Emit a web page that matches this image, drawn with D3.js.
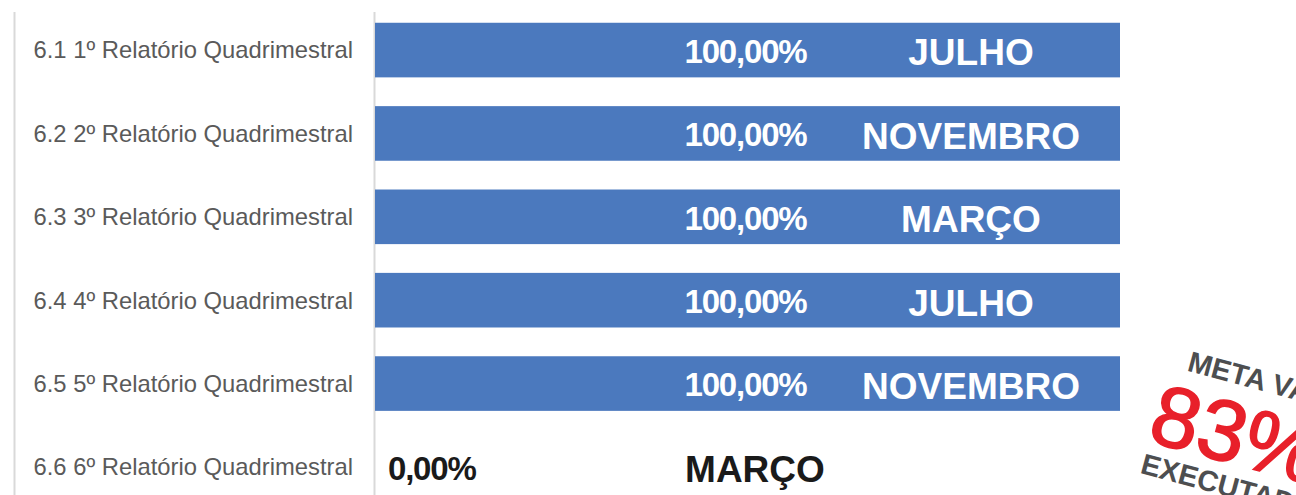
<!DOCTYPE html>
<html><head><meta charset="utf-8">
<script src="https://cdn.jsdelivr.net/npm/d3@7"></script>
<style>
html,body{margin:0;padding:0;background:#fff;overflow:hidden;}
svg{display:block;font-family:"Liberation Sans",Arial,sans-serif;}
</style></head>
<body>
<svg id="chart" width="1296" height="495"></svg>
<script>
const categories = [
  "6.1 1º Relatório Quadrimestral",
  "6.2 2º Relatório Quadrimestral",
  "6.3 3º Relatório Quadrimestral",
  "6.4 4º Relatório Quadrimestral",
  "6.5 5º Relatório Quadrimestral",
  "6.6 6º Relatório Quadrimestral"
];
const values = [1, 1, 1, 1, 1, 0];
const months = ["JULHO", "NOVEMBRO", "MARÇO", "JULHO", "NOVEMBRO", "MARÇO"];
const stampTop = "META VALIDADA";
const stampValue = "83%";
const stampBottom = "EXECUTADA";

const svg = d3.select("#chart");
const W = 1296, H = 495;

const x = d3.scaleLinear().domain([0, 1]).range([375, 1120]);
const y = d3.scaleBand().domain(categories).range([-6, 523]).paddingInner(0.345).paddingOuter(0.345);
const fmt = v => d3.format(".2f")(v * 100).replace(".", ",") + "%";

// frame lines
svg.append("line").attr("x1", 14.5).attr("x2", 14.5).attr("y1", 12).attr("y2", H)
  .attr("stroke", "#d9d9d9").attr("stroke-width", 2);
svg.append("line").attr("x1", 374.5).attr("x2", 374.5).attr("y1", 12).attr("y2", H)
  .attr("stroke", "#d9d9d9").attr("stroke-width", 2);

// bars
svg.selectAll("rect.bar").data(categories).join("rect")
  .attr("class", "bar")
  .attr("x", x(0))
  .attr("y", d => y(d))
  .attr("width", (d, i) => x(values[i]) - x(0))
  .attr("height", y.bandwidth())
  .attr("fill", "#4b79be");

// category labels
svg.selectAll("text.cat").data(categories).join("text")
  .attr("class", "cat")
  .attr("x", 353)
  .attr("y", d => y(d) + y.bandwidth() / 2)
  .attr("dy", "0.35em")
  .attr("text-anchor", "end")
  .attr("fill", "#5a5a5a")
  .attr("font-size", 23.8)
  .text(d => d);

// value labels
svg.selectAll("text.val").data(categories).join("text")
  .attr("class", "val")
  .attr("x", (d, i) => values[i] > 0 ? (x(0) + x(values[i])) / 2 - 2 : x(0) + 13)
  .attr("y", d => y(d) + y.bandwidth() / 2 + 1)
  .attr("dy", "0.36em")
  .attr("text-anchor", (d, i) => values[i] > 0 ? "middle" : "start")
  .attr("fill", (d, i) => values[i] > 0 ? "#ffffff" : "#1a1a1a")
  .attr("font-size", 33)
  .attr("font-weight", "bold")
  .attr("letter-spacing", -1.2)
  .text((d, i) => fmt(values[i]));

// month labels
svg.selectAll("text.month").data(categories).join("text")
  .attr("class", "month")
  .attr("x", (d, i) => values[i] > 0 ? x(0.8) : x(0.51))
  .attr("y", d => y(d) + y.bandwidth() / 2 + 2)
  .attr("dy", "0.36em")
  .attr("text-anchor", "middle")
  .attr("fill", (d, i) => values[i] > 0 ? "#ffffff" : "#1a1a1a")
  .attr("font-size", 37)
  .attr("font-weight", "bold")
  .text((d, i) => months[i]);

// stamp
const st = svg.append("g").attr("transform", "translate(1151,448) rotate(15)");
st.append("text").attr("x", 14).attr("y", -84)
  .attr("fill", "#4d4e50").attr("font-size", 29).attr("font-weight", "bold")
  .text(stampTop);
st.append("text").attr("x", -7).attr("y", -6)
  .attr("fill", "#e8202a").attr("stroke", "#e8202a").attr("stroke-width", 1.6)
  .attr("font-size", 86)
  .text(stampValue);
st.append("text").attr("x", -5).attr("y", 27)
  .attr("fill", "#4d4e50").attr("font-size", 29).attr("font-weight", "bold")
  .text(stampBottom);
</script>
</body></html>
